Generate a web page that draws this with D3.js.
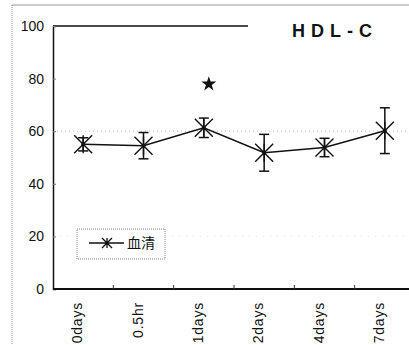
<!DOCTYPE html>
<html>
<head>
<meta charset="utf-8">
<script src="https://cdn.jsdelivr.net/npm/d3@7"></script>
<style>
  html, body { margin: 0; padding: 0; background: #fff; }
  svg { display: block; }
</style>
</head>
<body>
<svg id="chart" width="409" height="345"></svg>
<script>
// HDL-C over time (serum), mean ± SD
const categories = ["0days", "0.5hr", "1days", "2days", "4days", "7days"];
const means = [55.0, 54.5, 61.3, 51.8, 53.8, 60.2];
const errors = [2.5, 5.0, 3.7, 7.0, 3.5, 8.7];
const yTicks = [0, 20, 40, 60, 80, 100];
const significant = ["1days"];
const seriesName = "血清";
const title = "HDL-C";

const svg = d3.select("#chart");
const font = "'Liberation Sans', Arial, sans-serif";

const x = d3.scaleBand().domain(categories).range([53, 415]).padding(0);
const y = d3.scaleLinear().domain([0, 100]).range([289, 26]);
const cx = c => x(c) + x.bandwidth() / 2;

// outer frame
svg.append("line").attr("x1", 12).attr("x2", 409).attr("y1", 5).attr("y2", 5)
  .attr("stroke", "#999").attr("stroke-width", 1);
svg.append("line").attr("x1", 12).attr("x2", 12).attr("y1", 5).attr("y2", 345)
  .attr("stroke", "#888").attr("stroke-width", 1).attr("stroke-dasharray", "1,1");

// faint gridlines
svg.append("line").attr("x1", 53).attr("x2", 409).attr("y1", y(60)).attr("y2", y(60))
  .attr("stroke", "#bbb").attr("stroke-width", 1).attr("stroke-dasharray", "1,3");
svg.append("line").attr("x1", 53).attr("x2", 409).attr("y1", y(20)).attr("y2", y(20))
  .attr("stroke", "#e4e4e4").attr("stroke-width", 1).attr("stroke-dasharray", "1,6");

// top rule at 100
svg.append("line").attr("x1", 53).attr("x2", 248).attr("y1", y(100)).attr("y2", y(100))
  .attr("stroke", "#111").attr("stroke-width", 1.5);

// y axis
const yAxis = svg.append("g").attr("transform", "translate(53,0)")
  .call(d3.axisLeft(y).tickValues(yTicks).tickSize(-3).tickPadding(9));
yAxis.select(".domain").attr("stroke", "#111").attr("stroke-width", 1.5);
yAxis.selectAll(".tick line").attr("stroke", "#777");
yAxis.selectAll("text").attr("font-family", font).attr("font-size", 14).attr("fill", "#111");

// x axis with ticks between categories
svg.append("line").attr("x1", 53).attr("x2", 409).attr("y1", y(0)).attr("y2", y(0))
  .attr("stroke", "#111").attr("stroke-width", 2);
svg.append("g").selectAll("line").data(categories.slice(1)).join("line")
  .attr("x1", d => x(d)).attr("x2", d => x(d))
  .attr("y1", y(0)).attr("y2", y(0) - 4)
  .attr("stroke", "#333").attr("stroke-width", 1);

svg.append("g").selectAll("text").data(categories).join("text")
  .attr("transform", d => `translate(${cx(d) - 1},302) rotate(-90)`)
  .attr("text-anchor", "end")
  .attr("font-family", font).attr("font-size", 14).attr("letter-spacing", 0.8).attr("fill", "#111")
  .text(d => d);

// connecting line
const pts = categories.map((c, i) => ({ c, m: means[i], e: errors[i] }));
svg.append("path").datum(pts)
  .attr("d", d3.line().x(d => cx(d.c)).y(d => y(d.m)))
  .attr("fill", "none").attr("stroke", "#111").attr("stroke-width", 1.5);

// error bars
const eb = svg.append("g").attr("stroke", "#111").attr("stroke-width", 1.5);
pts.forEach(d => {
  const xc = cx(d.c);
  eb.append("line").attr("x1", xc).attr("x2", xc).attr("y1", y(d.m + d.e)).attr("y2", y(d.m - d.e));
  eb.append("line").attr("x1", xc - 5).attr("x2", xc + 5).attr("y1", y(d.m + d.e)).attr("y2", y(d.m + d.e));
  eb.append("line").attr("x1", xc - 5).attr("x2", xc + 5).attr("y1", y(d.m - d.e)).attr("y2", y(d.m - d.e));
});

// asterisk marker
function asterisk(g, xc, yc, r) {
  const p = d3.path();
  p.moveTo(xc, yc - r); p.lineTo(xc, yc + r);
  p.moveTo(xc - r, yc - r); p.lineTo(xc + r, yc + r);
  p.moveTo(xc - r, yc + r); p.lineTo(xc + r, yc - r);
  g.append("path").attr("d", p.toString()).attr("stroke", "#111").attr("stroke-width", 1.4).attr("fill", "none");
  g.append("circle").attr("cx", xc).attr("cy", yc).attr("r", 2).attr("fill", "#111");
}
const mk = svg.append("g");
pts.forEach(d => asterisk(mk, cx(d.c), y(d.m), 9));

// significance star
svg.append("g").selectAll("path").data(significant).join("path")
  .attr("transform", d => {
    const i = categories.indexOf(d);
    return `translate(${cx(d) + 5},${y(means[i] + errors[i]) - 34})`;
  })
  .attr("d", d3.symbol().type(d3.symbolStar).size(70))
  .attr("fill", "#111");

// title
svg.append("text").attr("x", 292).attr("y", 37)
  .attr("font-family", font).attr("font-size", 18).attr("letter-spacing", 6)
  .attr("font-weight", 600).attr("fill", "#111").text(title);

// legend
const lg = svg.append("g");
lg.append("rect").attr("x", 77).attr("y", 229).attr("width", 88).attr("height", 30)
  .attr("fill", "#fff").attr("stroke", "#888").attr("stroke-width", 1).attr("stroke-dasharray", "1,1");
lg.append("line").attr("x1", 89).attr("x2", 124).attr("y1", 243).attr("y2", 243)
  .attr("stroke", "#111").attr("stroke-width", 1.5);
(function () {
  const p = d3.path(), xc = 107, yc = 243, r = 5;
  p.moveTo(xc, yc - r); p.lineTo(xc, yc + r);
  p.moveTo(xc - r, yc - r); p.lineTo(xc + r, yc + r);
  p.moveTo(xc - r, yc + r); p.lineTo(xc + r, yc - r);
  lg.append("path").attr("d", p.toString()).attr("stroke", "#111").attr("stroke-width", 1.3);
  lg.append("circle").attr("cx", xc).attr("cy", yc).attr("r", 1.8).attr("fill", "#111");
})();
lg.append("text").attr("x", 127).attr("y", 248)
  .attr("font-family", "'Noto Sans CJK JP', 'Noto Sans CJK SC', sans-serif")
  .attr("font-size", 14).attr("fill", "#111").text(seriesName);
</script>
</body>
</html>
